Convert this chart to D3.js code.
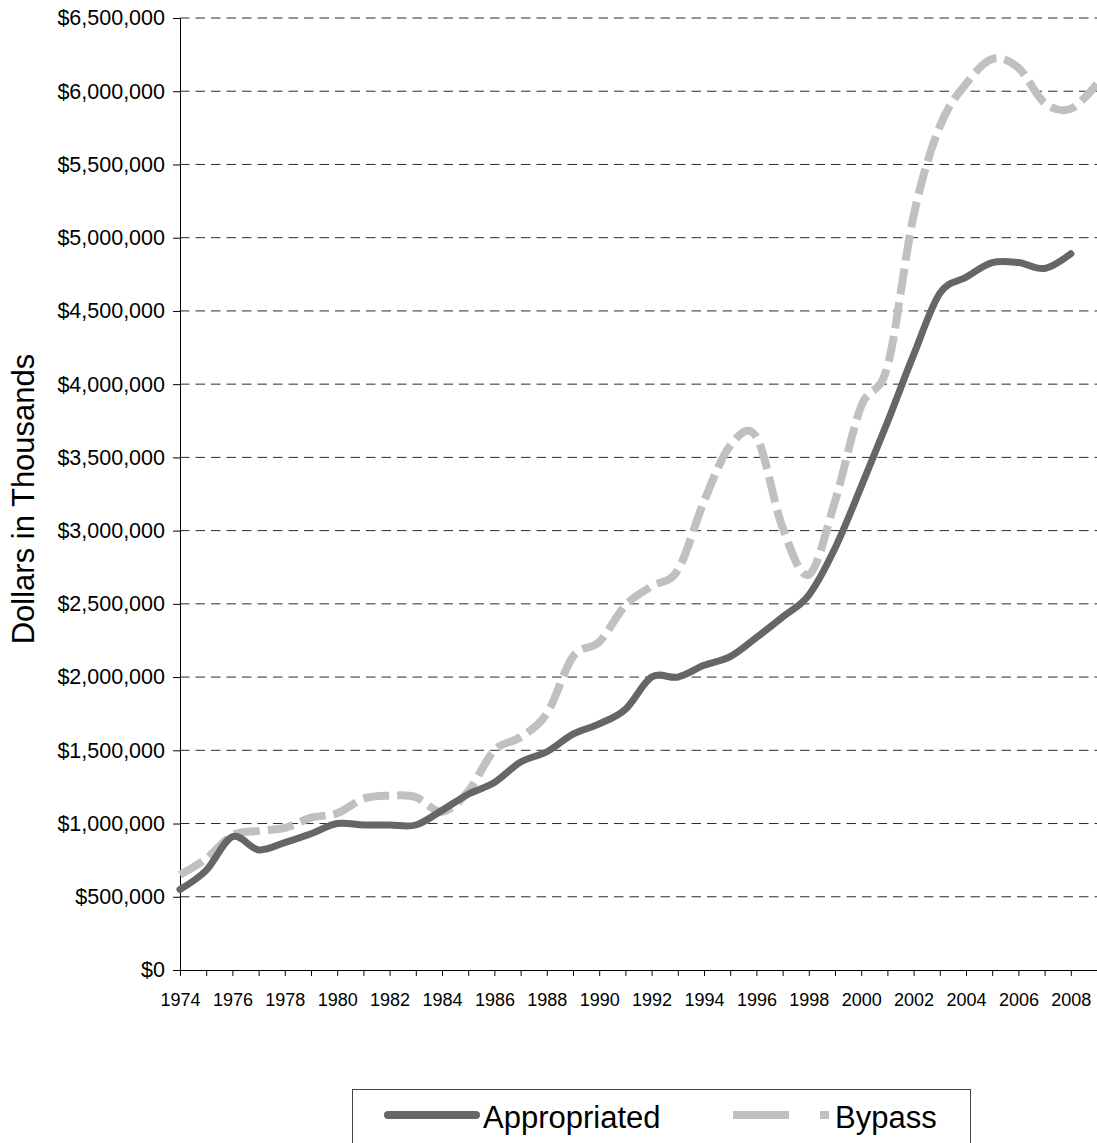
<!DOCTYPE html>
<html>
<head>
<meta charset="utf-8">
<script src="https://cdn.jsdelivr.net/npm/d3@7"></script>
<style>
  body { margin: 0; background: #fff; }
  text { font-family: "Liberation Sans", Arial, sans-serif; fill: #000; }
</style>
</head>
<body>
<script>
// data (thousands of dollars)
var apprYears = d3.range(1974, 2009);
var appropriated = [550000, 680000, 910000, 820000, 870000, 930000, 1000000, 990000, 990000, 990000,
  1090000, 1200000, 1280000, 1420000, 1490000, 1610000, 1680000, 1780000, 2000000, 2000000,
  2080000, 2140000, 2270000, 2410000, 2560000, 2880000, 3300000, 3740000, 4200000, 4620000,
  4730000, 4830000, 4830000, 4790000, 4890000];
var bypassYears = d3.range(1974, 2010);
var bypass = [650000, 760000, 920000, 950000, 970000, 1040000, 1070000, 1170000, 1190000, 1180000,
  1080000, 1220000, 1500000, 1590000, 1750000, 2140000, 2240000, 2490000, 2620000, 2730000,
  3200000, 3580000, 3640000, 3020000, 2700000, 3200000, 3850000, 4120000, 5150000, 5760000,
  6050000, 6220000, 6160000, 5920000, 5880000, 6050000];
var yTicks = d3.range(0, 6500001, 500000);
var xTicks = d3.range(1974, 2010);
var seriesNames = ["Appropriated", "Bypass"];

var W = 1097, H = 1143;
var margin = {left: 180, right: 1097, top: 18, bottom: 970};

var x = d3.scaleLinear().domain([1974, 2009]).range([margin.left, margin.right]);
var y = d3.scaleLinear().domain([0, 6500000]).range([margin.bottom, margin.top]);

var svg = d3.select("body").append("svg")
    .attr("width", W)
    .attr("height", H);

// gridlines
svg.append("g")
  .selectAll("line")
  .data(yTicks.filter(function(d) { return d > 0; }))
  .enter().append("line")
    .attr("x1", margin.left).attr("x2", margin.right)
    .attr("y1", function(d) { return y(d); })
    .attr("y2", function(d) { return y(d); })
    .attr("stroke", "#2a2a2a")
    .attr("stroke-width", 1)
    .attr("stroke-dasharray", "9.5,6");

// y axis
var yAxis = svg.append("g")
    .attr("transform", "translate(" + margin.left + ",0)")
    .call(d3.axisLeft(y).tickValues(yTicks).tickSize(7).tickPadding(8)
      .tickFormat(d3.format("$,")));
yAxis.selectAll("text").attr("font-size", "21.5px").attr("font-family", null);
yAxis.selectAll("line, path").attr("stroke", "#000");

// x axis
var xAxis = svg.append("g")
    .attr("transform", "translate(0," + margin.bottom + ")")
    .call(d3.axisBottom(x).tickValues(xTicks).tickSize(6).tickPadding(17)
      .tickFormat(function(d) { return d % 2 === 0 ? d : ""; }));
xAxis.selectAll("text").attr("font-size", "18px").attr("font-family", null);
xAxis.selectAll("line, path").attr("stroke", "#000");

// y title
svg.append("text")
   .attr("transform", "translate(34,499) rotate(-90)")
   .attr("text-anchor", "middle")
   .attr("font-size", "31px")
   .text("Dollars in Thousands");

var line = d3.line()
    .x(function(d) { return x(d[0]); })
    .y(function(d) { return y(d[1]); })
    .curve(d3.curveCatmullRom.alpha(0));

svg.append("path")
   .datum(d3.zip(bypassYears, bypass))
   .attr("d", line)
   .attr("fill", "none")
   .attr("stroke", "#c0c0c4")
   .attr("stroke-width", 8)
   .attr("stroke-dasharray", "26,8");

svg.append("path")
   .datum(d3.zip(apprYears, appropriated))
   .attr("d", line)
   .attr("fill", "none")
   .attr("stroke", "#666666")
   .attr("stroke-width", 7)
   .attr("stroke-linecap", "round")
   .attr("stroke-linejoin", "round");

// legend
svg.append("rect")
   .attr("x", 352.5).attr("y", 1089.5)
   .attr("width", 618).attr("height", 80)
   .attr("fill", "none")
   .attr("stroke", "#444");

svg.append("line")
   .attr("x1", 388).attr("x2", 476).attr("y1", 1115).attr("y2", 1115)
   .attr("stroke", "#666666").attr("stroke-width", 8)
   .attr("stroke-linecap", "round");
svg.append("text")
   .attr("x", 483).attr("y", 1128)
   .attr("font-size", "31px")
   .text(seriesNames[0]);

svg.append("line")
   .attr("x1", 733).attr("x2", 829).attr("y1", 1115).attr("y2", 1115)
   .attr("stroke", "#c0c0c4").attr("stroke-width", 8)
   .attr("stroke-dasharray", "56,31");
svg.append("text")
   .attr("x", 835).attr("y", 1128)
   .attr("font-size", "31px")
   .text(seriesNames[1]);
</script>
</body>
</html>
